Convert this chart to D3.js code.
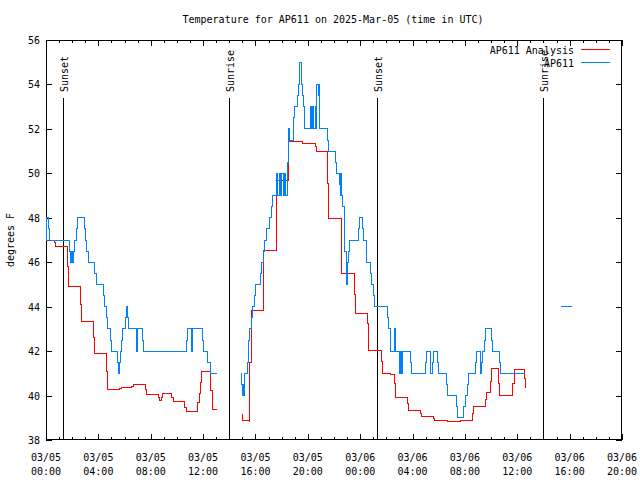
<!DOCTYPE html>
<html>
<head>
<meta charset="utf-8">
<script src="https://cdn.jsdelivr.net/npm/d3@7"></script>
<style>
  html, body { margin: 0; padding: 0; background: #fff; }
  svg { display: block; }
  text { font-family: "DejaVu Sans Mono", "Liberation Mono", monospace; font-size: 10px; fill: #000; }
</style>
</head>
<body>
<svg id="chart" width="640" height="480"></svg>
<script>
// ---------------- DATA ----------------
const chartTitle = "Temperature for AP611 on 2025-Mar-05 (time in UTC)";
const yAxisLabel = "degrees F";
const seriesNames = ["AP611 Analysis", "AP611"];
const seriesColors = ["#ff0000", "#0080ff"];

// hours since 2025-03-05 00:00 UTC ; null = gap
const obsHours = [0.0,0.05,0.18,0.25,1.78,1.86,1.95,2.02,2.1,2.2,2.3,2.39,2.93,3.03,3.13,3.23,3.74,3.85,4.38,4.46,4.63,4.71,4.89,5.02,5.45,5.52,5.6,5.68,5.78,5.86,6.06,6.14,6.26,6.34,6.93,7.0,7.36,7.44,10.75,10.82,11.08,11.18,11.94,12.02,12.35,12.53,13.04,
  13.5,
  14.9,14.94,14.98,15.03,15.08,15.15,15.41,15.48,15.56,15.66,15.74,15.89,15.97,16.37,16.48,16.65,16.71,16.88,17.11,17.19,17.32,17.62,17.72,17.82,17.95,18.0,18.13,18.2,18.33,18.43,18.5,18.6,18.89,19.02,19.2,19.28,19.35,19.4,19.48,19.53,19.61,19.66,19.71,19.73,20.17,20.25,20.35,20.45,20.55,20.62,20.7,20.78,20.82,20.86,20.93,21.49,21.57,22.1,22.2,22.41,22.46,22.52,22.58,22.66,22.77,22.84,22.92,22.97,23.05,23.1,23.17,23.86,23.94,24.19,24.29,24.45,24.52,24.75,24.88,25.0,25.11,26.07,26.18,26.28,26.33,26.59,26.69,26.99,27.05,27.12,27.2,27.86,27.94,29.0,29.08,29.39,29.54,29.62,29.92,30.0,30.61,30.69,31.37,31.42,31.88,32.01,32.19,32.29,32.8,32.9,33.16,33.28,33.36,33.51,33.56,34.0,34.13,34.63,34.74,36.62,
  38.0,
  39.34,40.15];
const obsTemps = [47,48,47.5,47,46.5,46,46.5,46,46.5,47,47.5,48,47.5,47,46.5,46,45.5,45,44.5,44,43.5,43,42.5,42,41.5,41,41.5,42,42.5,43,43.5,44,43.5,43,42,43,42.5,42,42.5,43,42,43,42.5,42,41.5,41,41,
  null,
  41,40.5,40,40.5,40,41,41.5,42.5,43,43.5,44,44.5,45,45.5,46,46.5,47,47.5,48,48.5,49,50,49,50,49,50,49,50,49,50.5,52,51.5,52.5,53,53.5,54,54.5,55,54.5,54,53.5,53,52.5,52,53,52,53,52,53,52,54,53.5,54,53,52,51.5,51,50.5,50,49.5,49,50,49,48.5,47.5,46.5,45.5,45,46,46.5,47,47.5,48,47.5,47,46.5,46,45.5,45,44.5,44,43.5,43,42.5,42,43,42,41,42,41,42,41.5,41,41.5,42,41,41.5,42,41.5,41,40.5,40,39.5,39,39.5,40,40.5,41,41.5,42,41,41.5,42,42.5,43,42.5,42,41.5,41,41,
  null,
  44,44];

const anaHours = [0.0,0.63,0.74,1.63,1.74,2.62,2.7,3.61,3.69,4.64,4.71,5.65,5.75,6.55,6.67,7.62,7.69,8.61,8.69,8.81,8.91,9.57,9.73,10.6,10.75,11.6,11.7,11.8,11.9,12.6,12.7,13.04,
  13.5,
  14.95,15.03,15.53,15.58,15.69,16.6,17.62,18.55,19.6,20.55,20.63,21.5,21.57,22.54,22.6,23.56,23.62,24.55,24.67,25.64,25.72,26.33,26.61,26.69,27.6,27.71,28.57,28.67,29.59,29.67,30.66,31.63,32.57,32.65,33.54,33.64,33.92,34.02,34.56,34.63,35.65,35.75,36.52,36.62];
const anaTemps = [47.0,46.9,46.7,45.8,44.9,44.1,43.35,42.6,41.9,41.1,40.27,40.31,40.35,40.42,40.5,40.27,40.05,39.9,39.77,39.93,40.1,39.93,39.74,39.48,39.29,39.71,40.11,40.6,41.07,40.24,39.36,39.36,
  null,
  39.17,38.9,38.83,41.5,43.85,46.55,49.7,51.42,51.35,51.2,50.97,49.55,47.97,46.7,45.5,44.55,43.7,43.25,42.05,41.53,41.0,40.97,40.55,39.92,39.65,39.35,39.2,39.08,38.97,38.9,38.82,38.9,39.2,39.51,39.83,40.15,40.62,41.22,40.55,40.02,40.55,41.18,40.78,40.35];

const sunHours = [1.32, 14.0, 25.31, 37.94];
const sunLabels = ["Sunset", "Sunrise", "Sunset", "Sunrise"];

const yTicks = [38, 40, 42, 44, 46, 48, 50, 52, 54, 56];
const xMajorHours = [0, 4, 8, 12, 16, 20, 24, 28, 32, 36, 40, 44];
const xTickDates = ["03/05","03/05","03/05","03/05","03/05","03/05","03/06","03/06","03/06","03/06","03/06","03/06"];
const xTickTimes = ["00:00","04:00","08:00","12:00","16:00","20:00","00:00","04:00","08:00","12:00","16:00","20:00"];
const xMinorHours = d3.range(0, 45, 1);

// ---------------- CHART ----------------
const base = Date.UTC(2025, 2, 5, 0, 0, 0);
const toDate = h => new Date(base + h * 3600e3);

const L = 46, R = 622, T = 40, B = 440;
const svg = d3.select("#chart");

const x = d3.scaleUtc().domain([toDate(0), toDate(44)]).range([L, R]);
const y = d3.scaleLinear().domain([38, 56]).range([B, T]);

// title
svg.append("text").attr("x", 333).attr("y", 23).attr("text-anchor", "middle").text(chartTitle);

// y label
svg.append("text").attr("transform", "translate(14,240) rotate(-90)")
  .attr("text-anchor", "middle").text(yAxisLabel);

// axes
const majorX = xMajorHours.map(toDate);
const minorX = xMinorHours.map(toDate);

const gb = svg.append("g").attr("transform", `translate(0,${B})`)
  .call(d3.axisBottom(x).tickValues(majorX).tickSize(-6).tickFormat(""));
const gbm = svg.append("g").attr("transform", `translate(0,${B})`)
  .call(d3.axisBottom(x).tickValues(minorX).tickSize(-3).tickFormat(""));
const gt = svg.append("g").attr("transform", `translate(0,${T})`)
  .call(d3.axisTop(x).tickValues(majorX).tickSize(-6).tickFormat(""));
const gtm = svg.append("g").attr("transform", `translate(0,${T})`)
  .call(d3.axisTop(x).tickValues(minorX).tickSize(-3).tickFormat(""));
const gl = svg.append("g").attr("transform", `translate(${L},0)`)
  .call(d3.axisLeft(y).tickValues(yTicks).tickSize(-6).tickPadding(8).tickFormat(d3.format("d")));
const gr = svg.append("g").attr("transform", `translate(${R},0)`)
  .call(d3.axisRight(y).tickValues(yTicks).tickSize(-6).tickFormat(""));

[gb, gbm, gt, gtm, gl, gr].forEach(g => {
  g.select(".domain").remove();
  g.selectAll("line").attr("stroke", "#000").attr("shape-rendering", "crispEdges");
  g.attr("font-family", null).attr("font-size", null);
});
gl.selectAll("text").attr("x", -6).attr("dy", "0.35em");

// x tick labels (two lines)
const xl = svg.append("g");
majorX.forEach((d, i) => {
  const t = xl.append("text").attr("text-anchor", "middle");
  t.append("tspan").attr("x", x(d)).attr("y", 461).text(xTickDates[i]);
  t.append("tspan").attr("x", x(d)).attr("y", 475).text(xTickTimes[i]);
});

// border
svg.append("rect").attr("x", L + 0.5).attr("y", T + 0.5).attr("width", R - L - 1).attr("height", B - T - 1)
  .attr("fill", "none").attr("stroke", "#000").attr("stroke-width", 1);

// sunrise/sunset
sunHours.forEach((h, i) => {
  const sx = Math.round(x(toDate(h))) + 0.5;
  svg.append("line").attr("x1", sx).attr("x2", sx).attr("y1", 98).attr("y2", B)
    .attr("stroke", "#000").attr("stroke-width", 1);
  svg.append("text").attr("transform", `translate(${sx + 4},92) rotate(-90)`)
    .attr("text-anchor", "start").text(sunLabels[i]);
});

// series
const line = d3.line()
  .defined(d => d.v !== null)
  .x(d => x(toDate(d.h)))
  .y(d => y(d.v))
  .curve(d3.curveStepAfter);

const anaData = anaHours.map((h, i) => ({ h, v: anaTemps[i] }));
const obsData = obsHours.map((h, i) => ({ h, v: obsTemps[i] }));

svg.append("path").datum(anaData).attr("d", line)
  .attr("fill", "none").attr("stroke", seriesColors[0]).attr("stroke-width", 1)
  .attr("shape-rendering", "crispEdges");
svg.append("path").datum(obsData).attr("d", line)
  .attr("fill", "none").attr("stroke", seriesColors[1]).attr("stroke-width", 1)
  .attr("shape-rendering", "crispEdges");

// legend
const legY = [50, 63];
seriesNames.forEach((n, i) => {
  svg.append("text").attr("x", 574).attr("y", legY[i]).attr("dy", "0.35em")
    .attr("text-anchor", "end").text(n);
  svg.append("line").attr("x1", 581).attr("x2", 610).attr("y1", legY[i] - 0.5).attr("y2", legY[i] - 0.5)
    .attr("stroke", seriesColors[i]).attr("stroke-width", 1);
});
</script>
</body>
</html>
